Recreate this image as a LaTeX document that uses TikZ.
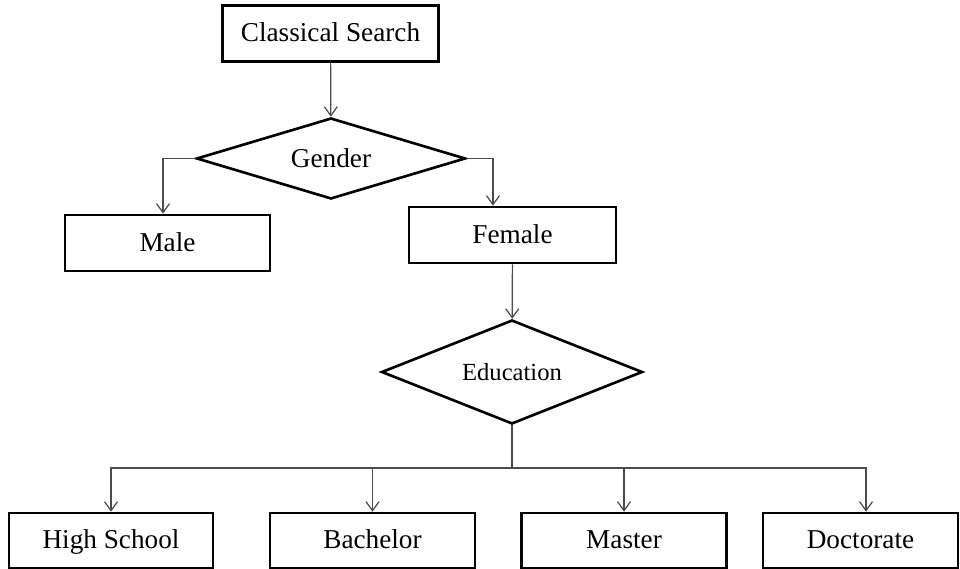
\documentclass[tikz,border=0pt]{standalone}
\usepackage{fontspec}
\setmainfont{Liberation Serif}
\usepackage{tikz}
\usetikzlibrary{arrows.meta,positioning,calc,shapes.geometric}

\begin{document}
\begin{tikzpicture}[
		box/.style={draw,line width=1.5pt,minimum height=1.12cm,inner sep=0pt,text height=1.1em,text depth=0.14em,font=\fontsize{15.5}{18}\selectfont},
		decision/.style={draw,diamond,line width=1.5pt,inner sep=0pt,font=\fontsize{15.5}{18}\selectfont},
		link/.style={draw=black!70,line width=0.7pt,-{Straight Barb[length=1.8mm,width=2.6mm]}}]
		\useasboundingbox (0,0) rectangle (19.2,-11.38);
		\node[box,minimum width=4.31cm] (search) at (6.61,-0.67) {Classical Search};
		\node[decision,aspect=3.3,minimum width=5.38cm,minimum height=1.62cm] (gender) at (6.62,-3.17) {Gender};
		\node[box,minimum width=4.1cm] (male) at (3.35,-4.86) {Male};
		\node[box,minimum width=4.14cm] (female) at (10.25,-4.7) {Female};
		\node[decision,aspect=2.5,minimum width=5.22cm,minimum height=2.08cm,font=\fontsize{14}{17}\selectfont] (edu) at (10.24,-7.44) {Education};
		\node[box,minimum width=4.08cm,minimum height=1.1cm] (school) at (2.22,-10.81) {High School};
		\node[box,minimum width=4.1cm,minimum height=1.1cm] (bachelor) at (7.45,-10.81) {Bachelor};
		\node[box,minimum width=4.1cm,minimum height=1.1cm] (master) at (12.48,-10.81) {Master};
		\node[box,minimum width=3.9cm,minimum height=1.1cm] (doctor) at (17.21,-10.81) {Doctorate};
		\coordinate (split) at (10.24,-9.36);
		\draw[link] (search) -- (gender);
		\draw[link] (gender.west) -| ([xshift=-0.09cm]male.north);
		\draw[link] (gender.east) -| ([xshift=-0.39cm]female.north);
		\draw[link] (female) -- (edu);
		\draw[draw=black!70,line width=0.7pt] (edu.south) -- (split);
		\foreach \b in {school,bachelor,master}
			\draw[link] (split) -| (\b.north);
		\draw[link] (split) -| ([xshift=0.11cm]doctor.north);
\end{tikzpicture}
\end{document}
